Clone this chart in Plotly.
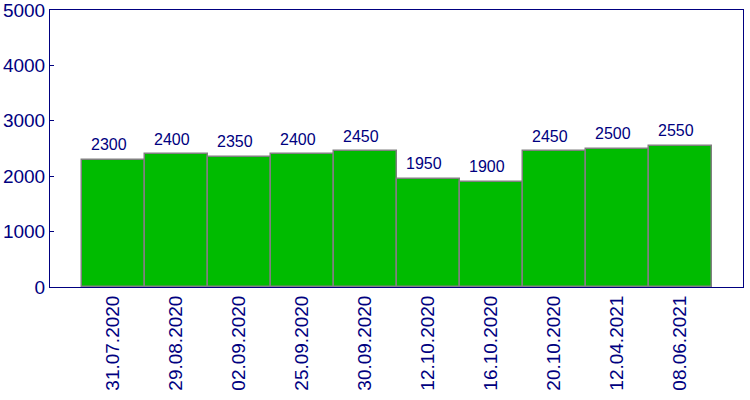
import plotly.graph_objects as go

dates = ["31.07.2020", "29.08.2020", "02.09.2020", "25.09.2020", "30.09.2020",
         "12.10.2020", "16.10.2020", "20.10.2020", "12.04.2021", "08.06.2021"]
values = [2300, 2400, 2350, 2400, 2450, 1950, 1900, 2450, 2500, 2550]

navy = "#000080"
fig = go.Figure(go.Bar(
    x=dates, y=values, width=1,
    marker=dict(color="#00BB00", line=dict(color="#808080", width=1.5)),
))
for d, v in zip(dates, values):
    fig.add_annotation(x=d, y=v, text=str(v), showarrow=False,
                       xanchor="center", yanchor="middle", xshift=-4, yshift=15,
                       font=dict(family="Liberation Sans, Arial", size=16, color=navy))
fig.update_layout(
    width=750, height=400,
    margin=dict(l=50, r=7, t=10, b=113, autoexpand=False),
    plot_bgcolor="white", paper_bgcolor="white",
    showlegend=False, bargap=0,
    font=dict(family="Liberation Sans, Arial", color=navy),
)
fig.update_xaxes(
    type="category", range=[-1, 10], tickangle=-90, automargin=False,
    showline=True, linecolor=navy, linewidth=1, mirror=True,
    ticks="", showgrid=False,
    tickfont=dict(size=19, color=navy),
)
fig.update_yaxes(
    range=[0, 5000], tickvals=[0, 1000, 2000, 3000, 4000, 5000],
    automargin=False,
    showline=True, linecolor=navy, linewidth=1, mirror=True,
    ticks="inside", ticklen=4, tickcolor=navy, showgrid=False,
    zeroline=False, tickfont=dict(size=19, color=navy),
    ticklabeloverflow="allow",
)
fig.write_html("out.html")
